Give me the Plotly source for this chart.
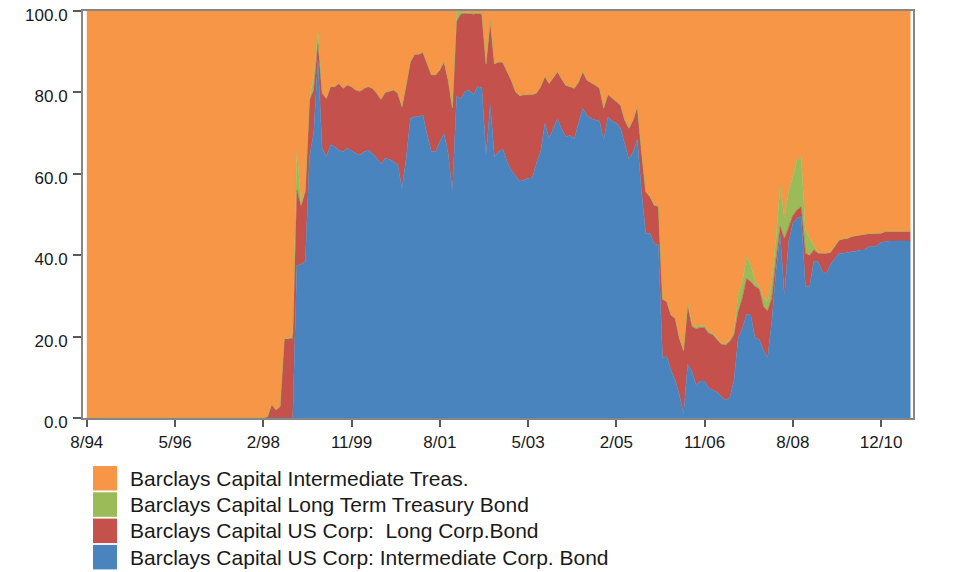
import plotly.graph_objects as go

# ---------------- data (monthly, 8/94 .. 12/10, % allocation) ----------------
SERIES_NAMES = [
    "Barclays Capital Intermediate Treas.",
    "Barclays Capital Long Term Treasury Bond",
    "Barclays Capital US Corp:  Long Corp.Bond",
    "Barclays Capital US Corp: Intermediate Corp. Bond",
]

TICK_POS = [0, 21, 42, 63, 84, 105, 126, 147, 168, 189]
TICK_LABELS = ["8/94", "5/96", "2/98", "11/99", "8/01", "5/03", "2/05", "11/06", "8/08", "12/10"]

INT_CORP = [
    0.0, 0.0, 0.0, 0.0, 0.0, 0.0, 0.0, 0.0, 0.0, 0.0, 0.0, 0.0, 0.0, 0.0, 0.0,
    0.0, 0.0, 0.0, 0.0, 0.0, 0.0, 0.0, 0.0, 0.0, 0.0, 0.0, 0.0, 0.0, 0.0, 0.0,
    0.0, 0.0, 0.0, 0.0, 0.0, 0.0, 0.0, 0.0, 0.0, 0.0, 0.0, 0.0, 0.0,
    0.0, 0.0, 0.0, 0.0, 0.0, 0.0, 0.0, 37.5, 37.8, 38.5, 64.2, 70.0, 88.0, 66.3,
    64.2, 67.1, 66.7, 65.8, 65.4, 66.3, 65.6, 65.0, 64.6, 65.4, 65.8, 65.0, 63.8,
    62.4, 63.8, 63.6, 63.0, 62.2, 56.4, 63.8, 73.6, 74.0, 74.0,
    74.4, 69.5, 65.4, 65.4, 67.9, 69.9, 65.0, 55.6, 79.0, 78.5, 80.2, 80.6, 79.4,
    81.4, 81.2, 64.6, 76.9, 64.2, 65.4, 66.1, 63.0, 60.9, 59.5, 58.2, 58.5, 58.9,
    59.0, 62.6, 65.4, 72.4, 68.7, 71.0, 73.5, 71.0, 69.1, 69.4, 68.7, 72.4, 76.1,
    74.3, 73.6, 73.2, 73.0, 68.3, 74.0, 73.0, 72.4, 71.2, 67.1, 63.6, 65.4, 68.5,
    55.6, 45.4, 45.4, 42.9, 42.5, 14.8, 15.1, 11.8, 9.3, 5.7, 1.0, 13.2, 11.4,
    8.1, 9.1, 9.1,
    7.3, 6.9, 6.3, 5.2, 4.4, 5.0, 9.3, 19.6, 22.0, 25.5, 25.3, 19.6, 19.4, 16.7,
    14.8, 23.7, 36.0, 45.0, 30.0, 43.3, 47.8, 49.1, 49.5, 32.3, 32.4, 38.6, 38.4,
    36.0, 35.5, 37.8, 39.1, 40.5, 40.5, 40.6, 40.9, 41.0, 41.3, 41.3, 42.1, 42.1,
    42.3, 43.2, 43.3, 43.5, 43.5, 43.5, 43.5, 43.5, 43.5,
]

LONG_CORP = [
    0.0, 0.0, 0.0, 0.0, 0.0, 0.0, 0.0, 0.0, 0.0, 0.0, 0.0, 0.0, 0.0, 0.0, 0.0,
    0.0, 0.0, 0.0, 0.0, 0.0, 0.0, 0.0, 0.0, 0.0, 0.0, 0.0, 0.0, 0.0, 0.0, 0.0,
    0.0, 0.0, 0.0, 0.0, 0.0, 0.0, 0.0, 0.0, 0.0, 0.0, 0.0, 0.0, 0.0,
    0.3, 3.3, 2.0, 2.8, 19.5, 19.5, 19.5, 18.5, 14.2, 17.0, 13.9, 10.5, 4.0, 13.5,
    14.3, 14.3, 14.7, 16.4, 15.6, 15.5, 15.8, 15.6, 15.7, 15.6, 15.6, 16.0, 16.0,
    15.9, 16.2, 16.7, 17.6, 17.6, 20.1, 18.0, 13.9, 15.4, 15.4,
    15.4, 17.6, 18.9, 18.9, 17.6, 17.6, 18.0, 20.6, 18.4, 20.7, 19.2, 18.7, 19.8,
    17.9, 18.0, 22.4, 20.5, 22.8, 22.1, 21.3, 22.1, 22.1, 20.7, 21.0, 20.9, 20.6,
    20.5, 17.2, 16.0, 11.5, 13.5, 12.6, 11.6, 12.3, 12.6, 12.0, 12.3, 10.1, 9.0,
    8.7, 8.9, 8.6, 8.0, 7.8, 5.5, 5.7, 5.5, 5.7, 6.1, 7.6, 7.8, 8.0,
    9.8, 10.2, 9.0, 9.4, 9.5, 14.4, 13.5, 13.5, 15.2, 13.9, 15.5, 14.2, 11.0,
    13.8, 13.1, 13.1,
    13.5, 13.5, 12.9, 12.9, 13.5, 13.8, 11.1, 6.5, 7.4, 8.8, 8.2, 12.7, 12.3, 10.7,
    11.5, 5.7, 2.8, 2.0, 14.0, 3.7, 1.9, 2.0, 2.4, 8.2, 7.5, 2.7, 2.1,
    4.5, 5.0, 2.9, 3.0, 3.2, 3.5, 3.5, 3.7, 3.8, 3.7, 3.8, 3.2, 3.2,
    3.0, 2.2, 2.5, 2.3, 2.3, 2.3, 2.3, 2.3, 2.3,
]

LONG_TREAS = [
    0.0, 0.0, 0.0, 0.0, 0.0, 0.0, 0.0, 0.0, 0.0, 0.0, 0.0, 0.0, 0.0, 0.0, 0.0,
    0.0, 0.0, 0.0, 0.0, 0.0, 0.0, 0.0, 0.0, 0.0, 0.0, 0.0, 0.0, 0.0, 0.0, 0.0,
    0.0, 0.0, 0.0, 0.0, 0.0, 0.0, 0.0, 0.0, 0.0, 0.0, 0.0, 0.0, 0.0,
    0.0, 0.0, 0.0, 0.0, 0.0, 0.0, 1.0, 10.0, 0.5, 0.5, 0.4, 3.5, 3.0, 0.2,
    0.0, 0.0, 0.0, 0.0, 0.0, 0.0, 0.0, 0.0, 0.0, 0.0, 0.0, 0.0, 0.0,
    0.0, 0.0, 0.0, 0.0, 0.0, 0.0, 0.0, 0.0, 0.0, 0.0,
    0.0, 0.0, 0.0, 0.0, 0.0, 0.0, 0.0, 0.0, 2.2, 0.6, 0.2, 0.2, 0.3,
    0.3, 0.3, 0.0, 0.3, 0.0, 0.0, 0.0, 0.0, 0.0, 0.0, 0.0, 0.0, 0.0,
    0.0, 0.0, 0.0, 0.0, 0.0, 0.0, 0.0, 0.0, 0.0, 0.0, 0.0, 0.0, 0.0,
    0.0, 0.0, 0.0, 0.0, 0.0, 0.0, 0.0, 0.0, 0.0, 0.0, 0.0, 0.0, 0.0,
    0.0, 0.0, 0.0, 0.0, 0.0, 0.0, 0.0, 0.0, 0.0, 0.0, 0.0, 0.8, 0.9,
    0.5, 0.5, 0.5,
    0.4, 0.4, 0.4, 0.2, 0.4, 0.4, 0.8, 4.1, 4.1, 5.2, 4.1, 1.2, 0.6, 2.2,
    2.3, 4.1, 5.3, 10.0, 5.0, 8.6, 9.6, 12.3, 12.3, 5.7, 4.2, 1.0, 0.1,
    0.0, 0.0, 0.0, 0.0, 0.0, 0.0, 0.0, 0.0, 0.0, 0.0, 0.0, 0.0, 0.0,
    0.0, 0.0, 0.0, 0.0, 0.0, 0.0, 0.0, 0.0, 0.0,
]

INT_TREAS = [
    100.0, 100.0, 100.0, 100.0, 100.0, 100.0, 100.0, 100.0, 100.0, 100.0, 100.0,
    100.0, 100.0, 100.0, 100.0, 100.0, 100.0, 100.0, 100.0, 100.0, 100.0, 100.0,
    100.0, 100.0, 100.0, 100.0, 100.0, 100.0, 100.0, 100.0, 100.0, 100.0, 100.0,
    100.0, 100.0, 100.0, 100.0, 100.0, 100.0, 100.0, 100.0, 100.0, 100.0,
    99.7, 96.7, 98.0, 97.2, 80.5, 80.5, 79.5, 34.0, 47.5, 44.0, 21.5, 16.0, 5.0, 20.0,
    21.5, 18.6, 18.6, 17.8, 19.0, 18.2, 18.6, 19.4, 19.7, 19.0, 18.6, 19.0, 20.2,
    21.7, 20.0, 19.7, 19.4, 20.2, 23.5, 18.2, 12.5, 10.6, 10.6,
    10.2, 12.9, 15.7, 15.7, 14.5, 12.5, 17.0, 23.8, 0.4, 0.2, 0.4, 0.5, 0.5,
    0.4, 0.5, 13.0, 2.3, 13.0, 12.5, 12.6, 14.9, 17.0, 19.8, 20.8, 20.6, 20.5,
    20.5, 20.2, 18.6, 16.1, 17.8, 16.4, 14.9, 16.7, 18.3, 18.6, 19.0, 17.5, 14.9,
    17.0, 17.5, 18.2, 19.0, 23.9, 20.5, 21.3, 22.1, 23.1, 26.8, 28.8, 26.8, 23.5,
    34.6, 44.4, 45.6, 47.7, 48.0, 70.8, 71.4, 74.7, 75.5, 80.4, 83.5, 71.8, 76.7,
    77.6, 77.3, 77.3,
    78.8, 79.2, 80.4, 81.7, 81.7, 80.8, 78.8, 69.8, 66.5, 60.5, 62.4, 66.5, 67.7,
    70.4, 71.4, 66.5, 55.9, 43.0, 51.0, 44.4, 40.7, 36.6, 35.8, 53.8, 55.9, 57.7,
    59.4, 59.5, 59.5, 59.3, 57.9, 56.3, 56.0, 55.9, 55.4, 55.2, 55.0, 54.9, 54.7,
    54.7, 54.7, 54.6, 54.2, 54.2, 54.2, 54.2, 54.2, 54.2, 54.2,
]

MONTH_INDEX = list(range(len(INT_TREAS)))

COLORS = {
    "treas": "#F79646",
    "ltreas": "#9BBB59",
    "lcorp": "#C4514B",
    "icorp": "#4A84BF",
}

# ---------------- figure ----------------
# The page body has an 8px margin, so the figure is drawn 8px smaller and
# all pixel positions below are in figure coordinates (page px - 8).
OFF = 8
W, H = 963 - OFF, 572 - OFF
PL, PR, PT, PB = 83 - OFF, 913 - OFF, 11 - OFF, 418 - OFF  # plot area

fig = go.Figure()
stack = [
    (SERIES_NAMES[3], INT_CORP, COLORS["icorp"]),
    (SERIES_NAMES[2], LONG_CORP, COLORS["lcorp"]),
    (SERIES_NAMES[1], LONG_TREAS, COLORS["ltreas"]),
    (SERIES_NAMES[0], INT_TREAS, COLORS["treas"]),
]
for name, vals, col in stack:
    fig.add_trace(go.Scatter(
        x=MONTH_INDEX, y=vals, name=name, mode="lines",
        line=dict(width=0.6, color=col), fillcolor=col,
        stackgroup="one", showlegend=False,
        hovertemplate="%{y:.1f}<extra>" + name + "</extra>",
    ))

axis_common = dict(
    showline=True, linecolor="#868686", linewidth=2, mirror=True,
    showgrid=False, zeroline=False, automargin=False,
    ticks="outside", tickcolor="#595959", tickwidth=2,
    ticklabeloverflow="allow",
    tickfont=dict(family="Liberation Sans, Arial, sans-serif", size=17, color="#1a1a1a"),
)

fig.update_layout(
    width=W, height=H,
    margin=dict(l=PL, r=W - PR, t=PT, b=H - PB, pad=0, autoexpand=False),
    paper_bgcolor="white", plot_bgcolor="white",
    xaxis=dict(range=[-0.9, 196.6], tickvals=TICK_POS, ticktext=TICK_LABELS,
               ticklen=7, ticklabelstandoff=1, **axis_common),
    yaxis=dict(range=[0, 100], tickvals=[0, 20, 40, 60, 80, 100], tickformat=".1f",
               ticklen=8, ticklabelstandoff=2, ticklabelshift=4, **axis_common),
)

# ---------------- legend (drawn below the plot) ----------------
def px_x(px):
    return (px - OFF - PL) / (PR - PL)

def px_y(py):
    return (PB - (py - OFF)) / (PB - PT)

legend_items = [
    (SERIES_NAMES[0], COLORS["treas"]),
    (SERIES_NAMES[1], COLORS["ltreas"]),
    (SERIES_NAMES[2], COLORS["lcorp"]),
    (SERIES_NAMES[3], COLORS["icorp"]),
]
top0, pitch, box_h = 466, 26.3, 24.5   # page pixels
for k, (name, col) in enumerate(legend_items):
    y0 = top0 + k * pitch
    fig.add_shape(type="rect", xref="paper", yref="paper",
                  x0=px_x(93), x1=px_x(117), y0=px_y(y0 + box_h), y1=px_y(y0),
                  fillcolor=col, line=dict(width=0))
    fig.add_annotation(xref="paper", yref="paper", x=px_x(128), y=px_y(y0 + box_h / 2),
                       xanchor="left", yanchor="middle", showarrow=False, text=name,
                       font=dict(family="Liberation Sans, Arial, sans-serif", size=21,
                                 color="#1a1a1a"))

fig.write_html("out.html")
